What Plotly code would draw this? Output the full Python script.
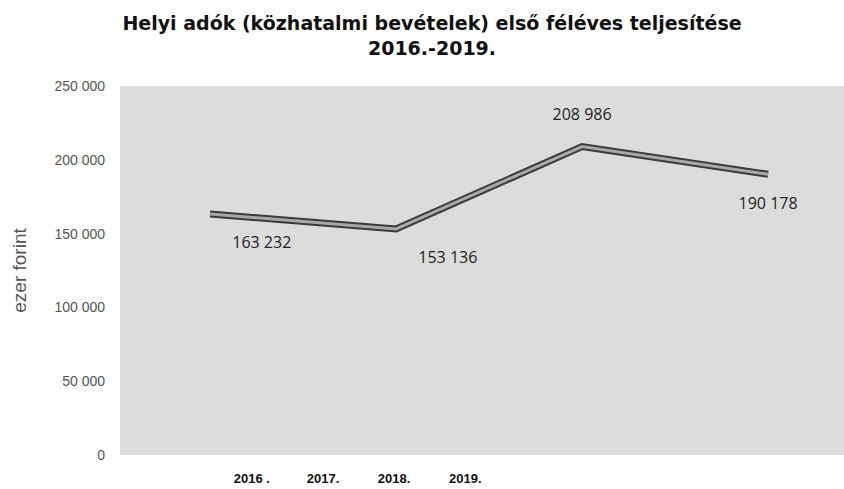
import plotly.graph_objects as go

categories = ["2016", "2017", "2018", "2019"]
tick_labels = ["2016 .", "2017.", "2018.", "2019."]
values = [163232, 153136, 208986, 190178]
value_labels = ["163 232", "153 136", "208 986", "190 178"]
label_positions = ["bottom right", "bottom right", "top center", "bottom center"]
y_ticks = [0, 50000, 100000, 150000, 200000, 250000]

fig = go.Figure()

# dark outline of the line
fig.add_trace(go.Scatter(
    x=categories, y=values, mode="lines",
    line=dict(color="#3a3a3a", width=7), hoverinfo="skip", showlegend=False))
# lighter inner stroke
fig.add_trace(go.Scatter(
    x=categories, y=values, mode="lines+markers+text",
    line=dict(color="#a8a8a8", width=3),
    marker=dict(size=34, color="rgba(0,0,0,0)"),
    text=value_labels, textposition=label_positions,
    textfont=dict(family="Open Sans, Liberation Sans, sans-serif", size=16, color="#222222"),
    showlegend=False))
# category labels on their own (offset) axis
fig.add_trace(go.Scatter(
    x=tick_labels, y=[None] * 4, xaxis="x2", yaxis="y", mode="markers",
    showlegend=False, hoverinfo="skip"))

fig.update_layout(
    width=844, height=489,
    margin=dict(l=120, r=0, t=86, b=34),
    paper_bgcolor="white",
    plot_bgcolor="rgba(0,0,0,0)",
    separators=", ",
    title=dict(
        text="<b>Helyi adók (közhatalmi bevételek) első féléves teljesítése<br>2016.-2019.</b>",
        x=432 / 844, xanchor="center", xref="container",
        y=1 - 30 / 489, yanchor="middle", yref="container",
        font=dict(family="DejaVu Sans, sans-serif", size=19, color="#111111")),
    xaxis=dict(
        type="category", range=[-0.484, 3.408],
        showticklabels=False, showgrid=False, zeroline=False, showline=False, ticks=""),
    xaxis2=dict(
        type="category", domain=[0.133, 0.526], anchor="y", range=[-0.5, 3.5],
        showgrid=False, zeroline=False, showline=False, ticks="",
        ticklabelstandoff=14,
        tickfont=dict(family="Liberation Sans, Arial, sans-serif", size=13, color="#111111"),
        tickprefix="<b>", ticksuffix="</b>"),
    yaxis=dict(
        range=[0, 250000], tickvals=y_ticks, tickformat=",",
        showgrid=False, zeroline=False, showline=False,
        ticklabelstandoff=14,
        tickfont=dict(family="Liberation Sans, Arial, sans-serif", size=14, color="#555555"),
        title=dict(text="ezer forint", standoff=22,
                   font=dict(family="Liberation Sans, Arial, sans-serif", size=19, color="#555555"))),
    shapes=[dict(type="rect", xref="x domain", yref="y domain", x0=0, x1=1, y0=0, y1=1,
                 fillcolor="#dcdcdc", line=dict(width=0), layer="below")],
)

fig.write_html("out.html", config={"displayModeBar": False},
               post_script="document.body.style.margin='0';")
